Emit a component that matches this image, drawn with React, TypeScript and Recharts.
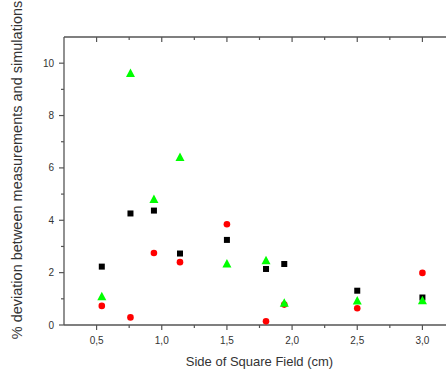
import { Label, Scatter, ScatterChart, XAxis, YAxis } from "recharts";

// field sizes shared by all three series (cm)
const fieldSizes = [0.54, 0.76, 0.94, 1.14, 1.5, 1.8, 1.94, 2.5, 3.0];
const blackSeries = [2.23, 4.26, 4.37, 2.73, 3.25, 2.14, 2.33, 1.31, 1.05];
const redSeries = [0.73, 0.29, 2.75, 2.4, 3.85, 0.14, 0.78, 0.64, 1.99];
const greenSeries = [1.08, 9.61, 4.79, 6.4, 2.33, 2.45, 0.83, 0.92, 0.93];

const xTicks = [0.5, 0.75, 1.0, 1.25, 1.5, 1.75, 2.0, 2.25, 2.5, 2.75, 3.0];
const xMajor = [0.5, 1.0, 1.5, 2.0, 2.5, 3.0];
const yTicks = [0, 1, 2, 3, 4, 5, 6, 7, 8, 9, 10];
const yMajor = [0, 2, 4, 6, 8, 10];

const toPoints = (ys: number[]) => fieldSizes.map((x, i) => ({ x, y: ys[i] }));

const AXIS = "#555";
const TEXT = "#333";
const FONT = "Arial, 'Liberation Sans', sans-serif";

const fmt = (v: number) => v.toFixed(1).replace(".", ",");

function BottomTick(props: any) {
  const { x, y, payload } = props;
  const major = xMajor.includes(payload.value);
  return (
    <g>
      <line x1={x} x2={x} y1={y} y2={y + (major ? 5 : 3)} stroke={AXIS} strokeWidth={1.2} />
      {major && (
        <text x={x} y={y + 19} textAnchor="middle" fontSize={10} fill={TEXT} fontFamily={FONT}>
          {fmt(payload.value)}
        </text>
      )}
    </g>
  );
}

function TopTick(props: any) {
  const { x, y, payload } = props;
  const major = xMajor.includes(payload.value);
  return <line x1={x} x2={x} y1={y} y2={y + (major ? 5 : 3)} stroke={AXIS} strokeWidth={1.2} />;
}

function LeftTick(props: any) {
  const { x, y, payload } = props;
  const major = yMajor.includes(payload.value);
  return (
    <g>
      <line x1={x} x2={x - (major ? 5 : 3)} y1={y} y2={y} stroke={AXIS} strokeWidth={1.2} />
      {major && (
        <text x={x - 10} y={y + 3.5} textAnchor="end" fontSize={10} fill={TEXT} fontFamily={FONT}>
          {payload.value}
        </text>
      )}
    </g>
  );
}

const Square = (p: any) => <rect x={p.cx - 3} y={p.cy - 3} width={6} height={6} fill="#000" />;
const Dot = (p: any) => <circle cx={p.cx} cy={p.cy} r={3.3} fill="#ff0000" />;
const Triangle = (p: any) => (
  <polygon
    points={`${p.cx},${p.cy - 5} ${p.cx - 4.5},${p.cy + 3.5} ${p.cx + 4.5},${p.cy + 3.5}`}
    fill="#00ff00"
  />
);

export default function App() {
  return (
    <div style={{ position: "fixed", left: 0, top: 0, width: 446, height: 372, overflow: "hidden", background: "#fff" }}>
      <ScatterChart width={455} height={372} margin={{ top: 36, right: 0, bottom: 0, left: 0 }}>
        <XAxis
          dataKey="x"
          type="number"
          domain={[0.25, 3.25]}
          ticks={xTicks}
          interval={0}
          allowDataOverflow
          height={47}
          tickSize={0}
          tickMargin={0}
          tick={<BottomTick />}
          stroke={AXIS}
          strokeWidth={1.3}
        >
          <Label
            value="Side of Square Field (cm)"
            position="insideBottom"
            offset={6}
            style={{ fontSize: 13, fill: TEXT, fontFamily: FONT }}
          />
        </XAxis>
        <XAxis
          xAxisId="top"
          dataKey="x"
          orientation="top"
          type="number"
          domain={[0.25, 3.25]}
          ticks={xTicks}
          interval={0}
          allowDataOverflow
          height={1}
          tickSize={0}
          tickMargin={0}
          tick={<TopTick />}
          stroke={AXIS}
          strokeWidth={1.3}
        />
        <YAxis
          dataKey="y"
          type="number"
          domain={[0, 11]}
          ticks={yTicks}
          interval={0}
          allowDataOverflow
          width={64}
          tickSize={0}
          tickMargin={0}
          tick={<LeftTick />}
          stroke={AXIS}
          strokeWidth={1.3}
        >
          <Label
            content={() => (
              <text
                x={22}
                y={170}
                transform="rotate(-90 22 170)"
                textAnchor="middle"
                fontSize={14.5}
                fill={TEXT}
                fontFamily={FONT}
              >
                % deviation between measurements and simulations
              </text>
            )}
          />
        </YAxis>
        <Scatter data={toPoints(blackSeries)} shape={Square} isAnimationActive={false} />
        <Scatter data={toPoints(redSeries)} shape={Dot} isAnimationActive={false} />
        <Scatter data={toPoints(greenSeries)} shape={Triangle} isAnimationActive={false} />
        {/* empty series so the top mirror axis gets drawn */}
        <Scatter xAxisId="top" data={[]} isAnimationActive={false} />
      </ScatterChart>
    </div>
  );
}
